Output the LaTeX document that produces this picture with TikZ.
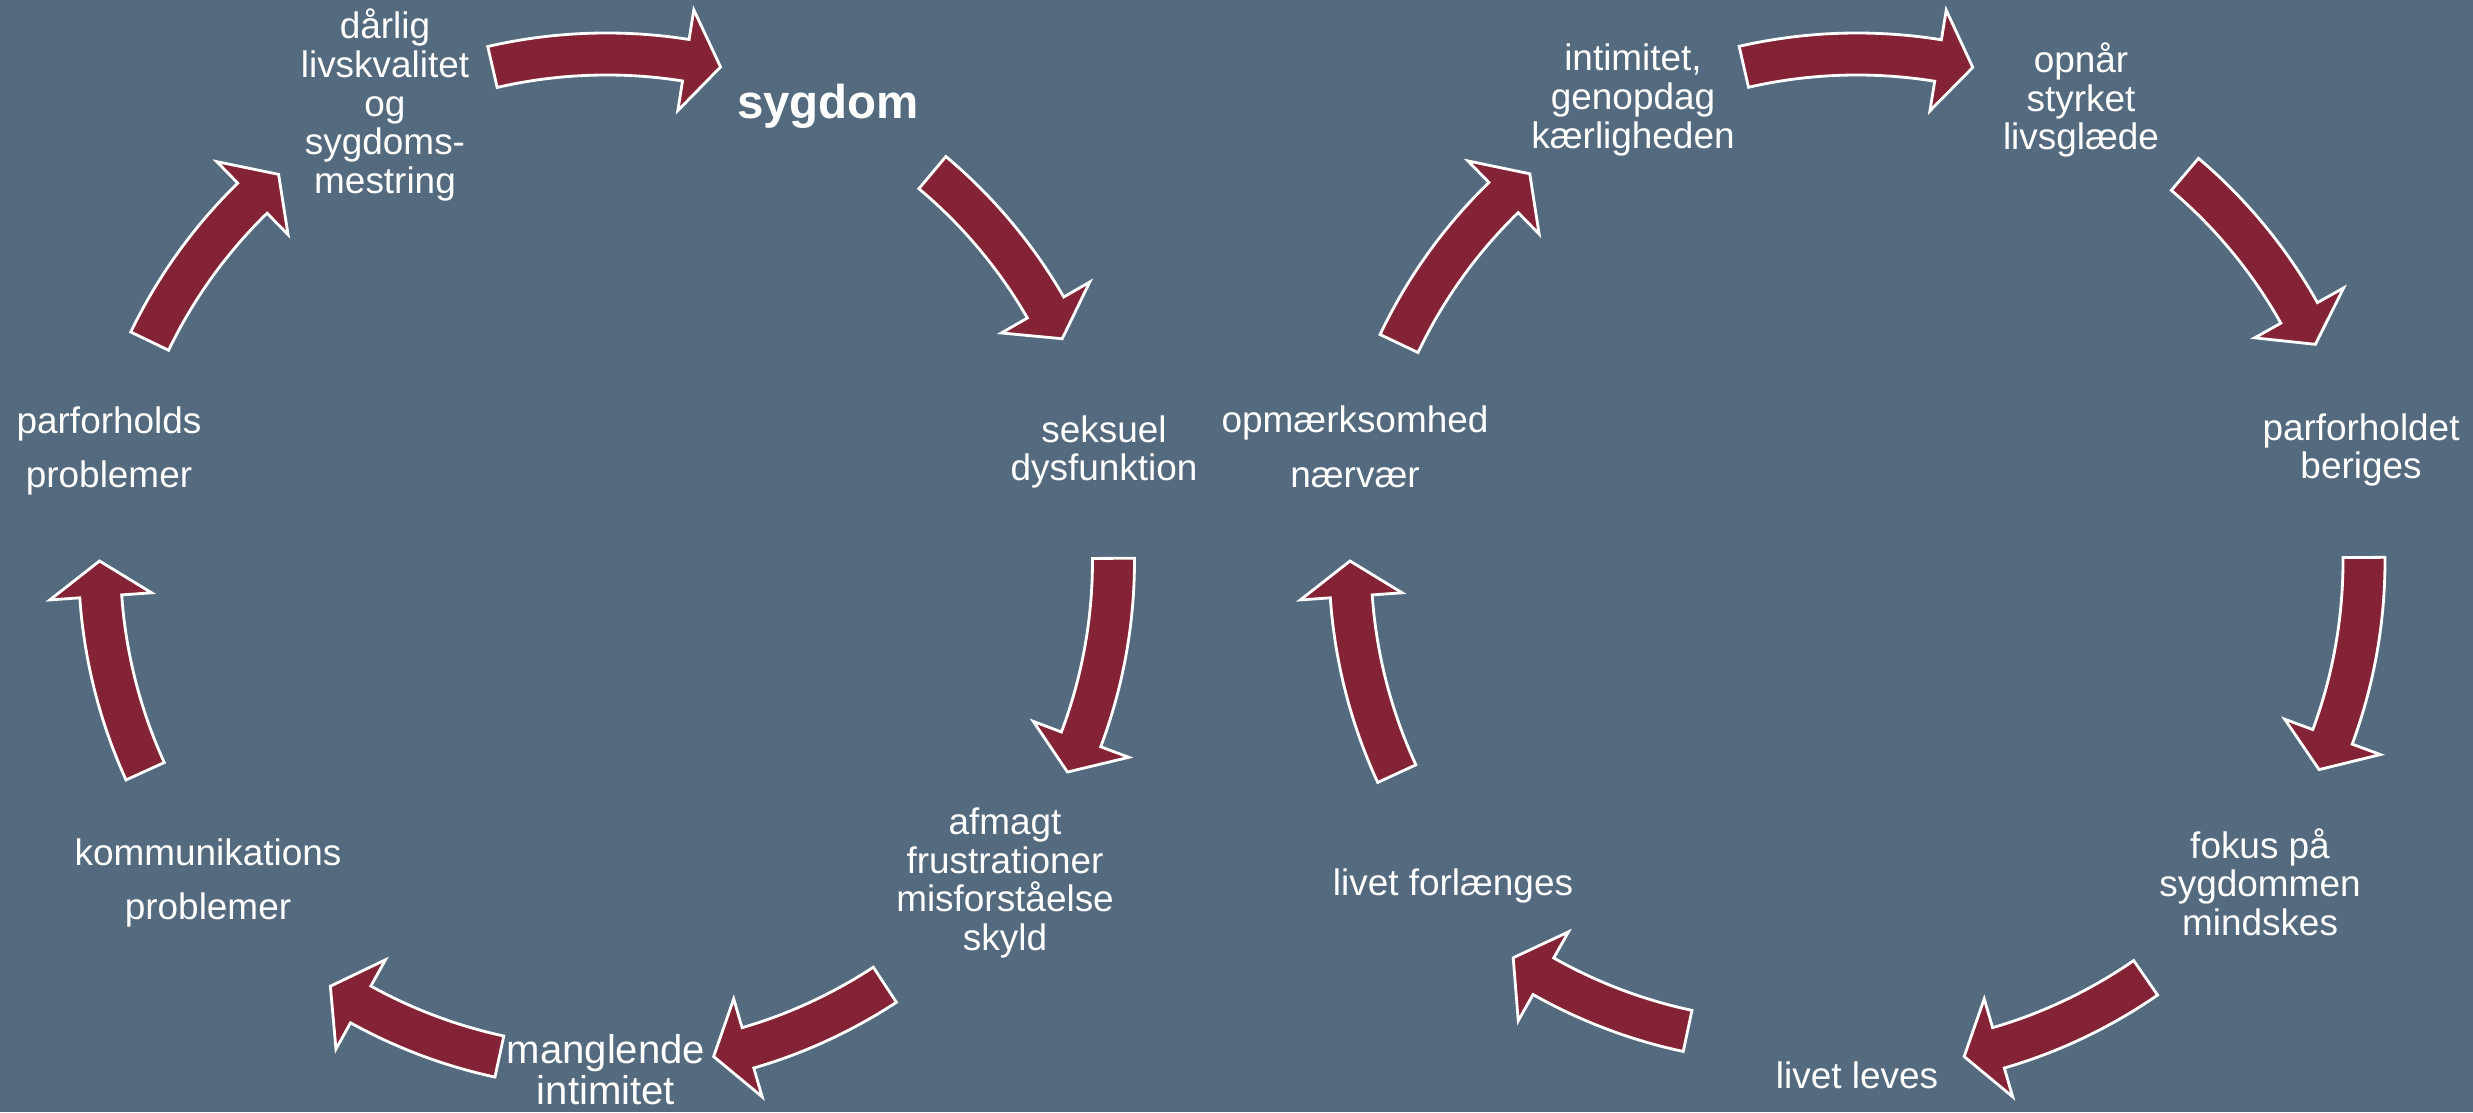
\documentclass[tikz,border=0pt]{standalone}
\usepackage{fontspec}
\setmainfont{Liberation Sans}

\definecolor{bgslate}{RGB}{84,106,126}
\definecolor{arrowred}{RGB}{132,35,53}

\tikzset{
  cyclearrow/.style={fill=arrowred, draw=white, line width=0.8pt, line join=miter},
  cycletext/.style={text=white, align=center, inner sep=0pt, font=\fontsize{10.5}{11}\selectfont},
}

% curved block arrow on the circle, #1 = tail angle, #2 = tip angle
\newcommand{\cyclearc}[2]{%
  \pgfmathsetmacro\baseang{#2+4}%
  \draw[cyclearrow] (#1:486) -- (#1:528)
    arc[start angle=#1, end angle=\baseang, radius=528]
    -- (\baseang:558) -- (#2:507) -- (\baseang:456) -- (\baseang:486)
    arc[start angle=\baseang, end angle=#1, radius=486] -- cycle;
}

\begin{document}
\begin{tikzpicture}[x=0.01cm, y=0.01cm]
    % Background
    \fill[bgslate] (0,0) rectangle (2473,1112);
    \coordinate (cL) at (606.5,551);
    \coordinate (cR) at (1857,551);
    \coordinate (cR2) at (1793,577);

    % Arrows, left cycle
    \begin{scope}[shift={(cL)}]
        \foreach \ta/\tb in {103/77, 50/26, 0.3/-24.6, -56.7/-77.8, -102.2/-123, -155.5/-180, 154.3/130.3}
            \cyclearc{\ta}{\tb};
    \end{scope}

    % Arrows, right cycle
    \begin{scope}[shift={(cR)}]
        \foreach \ta/\tb in {102.9/76.8, 49.7/25.3, 0.4/-24.3, -55.3/-77.8, -155.2/-180, 154.6/130.2}
            \cyclearc{\ta}{\tb};
    \end{scope}
    \begin{scope}[shift={(cR2)}]
        \cyclearc{-102}{-123.5}
    \end{scope}

    % Left cycle
    \node[cycletext, font=\bfseries\fontsize{13.5}{14}\selectfont] (sygdom) at (828,1006) {sygdom};
    \node[cycletext] (seksuel) at (1104,660) {seksuel\\dysfunktion};
    \node[cycletext] (afmagt) at (1005,229) {afmagt\\frustrationer\\misforståelse\\skyld};
    \node[cycletext, font=\fontsize{11.4}{11.6}\selectfont] (manglende) at (606,42) {manglende\\intimitet};
    \node[cycletext] (kommunikation) at (208,229) {kommunikations\\[4.6pt]problemer};
    \node[cycletext] (parforholds) at (109,661) {parforholds\\[4.6pt]problemer};
    \node[cycletext] (daarlig) at (385,1007) {dårlig\\livskvalitet\\og\\sygdoms-\\mestring};

    % Right cycle
    \node[cycletext] (intimitet) at (1633,1012) {intimitet,\\genopdag\\kærligheden};
    \node[cycletext] (opnaar) at (2081,1012) {opnår\\styrket\\livsglæde};
    \node[cycletext] (beriges) at (2361,662) {parforholdet\\beriges};
    \node[cycletext] (fokus) at (2260,230) {fokus på\\sygdommen\\mindskes};
    \node[cycletext] (leves) at (1857,37) {livet leves};
    \node[cycletext] (forlaenges) at (1453,226) {livet forlænges};
    \node[cycletext] (opmaerksomhed) at (1355,665) {opmærksomhed\\[4.6pt]nærvær};
\end{tikzpicture}
\end{document}
